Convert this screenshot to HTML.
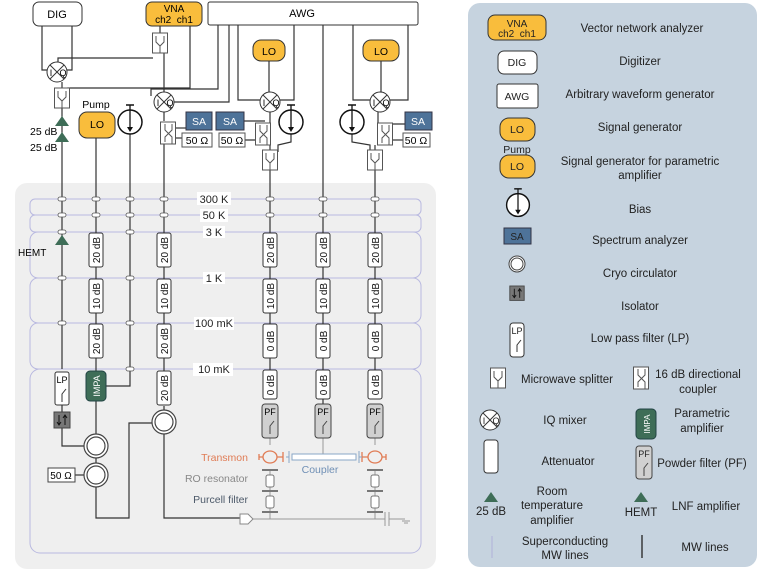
<!DOCTYPE html>
<html><head><meta charset="utf-8"><style>
html,body{margin:0;padding:0;background:#fff}
svg{display:block;font-family:"Liberation Sans","DejaVu Sans",sans-serif}
</style></head><body>
<svg width="765" height="572" viewBox="0 0 765 572" xmlns="http://www.w3.org/2000/svg">
<defs>
<g id="att"><rect x="-7" y="0" width="14" height="34" rx="2" fill="#fff" stroke="#333" stroke-width="1"/></g>
<g id="mix"><circle r="10" fill="#fff" stroke="#333"/><line x1="-7" y1="-7" x2="7" y2="7" stroke="#333"/><line x1="-7" y1="7" x2="7" y2="-7" stroke="#333"/><text x="-6" y="4" font-size="9" text-anchor="middle">I</text><text x="6" y="4" font-size="9" text-anchor="middle">Q</text></g>
<g id="spl"><rect x="-7.5" y="0" width="15" height="20" fill="#fff" stroke="#555"/><path d="M-4 3 V9 L0 13 L4 9 V3 M0 13 V20" fill="none" stroke="#555"/></g>
<g id="dc"><rect x="-7.5" y="0" width="15" height="22" fill="#fff" stroke="#555"/><path d="M-3 2 V8 L4 15 V22 M4 2 V8 L-3 15 V20" fill="none" stroke="#555"/></g>
<g id="bias"><circle r="12" fill="#fff" stroke="#111" stroke-width="1.5"/><line x1="0" y1="-17" x2="0" y2="8" stroke="#111" stroke-width="1.3"/><line x1="-4" y1="-17" x2="4" y2="-17" stroke="#111" stroke-width="1.5"/><path d="M-3 5 L0 10 L3 5Z" fill="#111"/></g>
<g id="circ"><circle r="12" fill="#fff" stroke="#444" stroke-width="1.2"/><circle r="9" fill="none" stroke="#444" stroke-width="1.2"/></g>
<g id="pf"><rect x="-8" y="0" width="16" height="34" rx="3" fill="#d0d0d0" stroke="#444"/><text x="0" y="11" font-size="9" text-anchor="middle">PF</text><path d="M0 30 V22 L4 17" fill="none" stroke="#444"/></g>
<g id="iso"><rect x="-8" y="0" width="16" height="16" fill="#777" stroke="#444"/><path d="M-3 3 V13 M3 3 V13" stroke="#111"/><path d="M-5 10 L-3 13 L-1 10 M1 6 L3 3 L5 6" fill="none" stroke="#111"/></g>
</defs>

<rect x="468" y="3" width="289" height="564" rx="12" fill="#c6d3df"/>
<rect x="15" y="183" width="421" height="386" rx="12" fill="#efefef"/>
<g fill="none" stroke="#b9b9e0" stroke-width="1">
<rect x="30" y="199" width="391" height="16" rx="5"/>
<rect x="30" y="215" width="391" height="17" rx="5"/>
<rect x="30" y="232" width="391" height="46" rx="8"/>
<rect x="30" y="278" width="391" height="45" rx="8"/>
<rect x="30" y="323" width="391" height="46" rx="8"/>
<rect x="30" y="369" width="391" height="184" rx="10"/>
</g>
<g font-size="11" text-anchor="middle" fill="#222">
<rect x="197" y="192" width="34" height="13" fill="#fff"/><text x="214" y="203">300 K</text>
<rect x="200" y="209" width="28" height="13" fill="#fff"/><text x="214" y="219">50 K</text>
<rect x="203" y="226" width="22" height="12" fill="#fff"/><text x="214" y="236">3 K</text>
<rect x="203" y="272" width="22" height="12" fill="#fff"/><text x="214" y="282">1 K</text>
<rect x="194" y="317" width="40" height="13" fill="#fff"/><text x="214" y="327">100 mK</text>
<rect x="193" y="363" width="40" height="13" fill="#fff"/><text x="214" y="373">10 mK</text>
</g>

<g fill="none" stroke="#333" stroke-width="1.2">
<path d="M42 26 V70 H47"/><path d="M72 26 V70 H67"/>
<path d="M62 82 V88"/><path d="M62 108 V369"/>
<path d="M160 25 V33"/><path d="M164 53 V92"/><path d="M153 58 H58 V62"/>
<path d="M190 25 V88 H68 V90"/>
<path d="M218 25 V89 H151 V96"/>
<path d="M229 25 V102 H174"/>
<path d="M238 25 V100 H260"/>
<path d="M294 25 V100 H280"/>
<path d="M323 25 V404"/>
<path d="M353 25 V100 H370"/>
<path d="M408 25 V100 H390"/>
<path d="M269 61 V92"/><path d="M381 61 V92"/>
<path d="M164 112 V121"/><path d="M164 143 V371"/>
<path d="M270 112 V123"/><path d="M270 145 V150"/><path d="M270 170 V371"/>
<path d="M378 112 V123"/><path d="M375 145 V150"/><path d="M375 170 V371"/>
<path d="M291 134 V142 L278 145 V152"/><path d="M352 134 V142 L370 145 V152"/>
<path d="M96 138 V371"/><path d="M130 110 V386 H106"/>
<path d="M172 128 H186"/><path d="M172 138 H182"/>
<path d="M244 121 H265"/><path d="M245 140 H264"/>
<path d="M388 124 H405"/><path d="M388 140 H403"/>
<path d="M62 405 V412"/><path d="M62 428 V446 H84"/>
<path d="M96 400 V434"/><path d="M96 458 V463"/>
<path d="M75 475 H84"/>
<path d="M96 487 V518 H129 V423 H152"/>
<path d="M164 406 V410"/><path d="M164 434 V518 H240"/>
</g>
<g fill="none" stroke="#999" stroke-width="1">
<path d="M252 519 H385"/><path d="M270 438 V445"/><path d="M375 438 V445"/><path d="M323 438 V457"/>
<path d="M270 469 V519"/><path d="M375 469 V519"/>
<path d="M385 519 V512 M385 519 V526 M389 512 V526 M389 519 H405 M402 521 H410 M404 523 H408"/>
</g>
<path d="M240 514 H248 L253 519 L248 524 H240Z" fill="#fff" stroke="#888"/>

<g fill="#fff" stroke="#555" stroke-width="0.8">
<rect x="58" y="197" width="8" height="4" rx="2"/><rect x="58" y="213" width="8" height="4" rx="2"/><rect x="58" y="230" width="8" height="4" rx="2"/><rect x="58" y="276" width="8" height="4" rx="2"/><rect x="58" y="321" width="8" height="4" rx="2"/>
<rect x="92" y="197" width="8" height="4" rx="2"/><rect x="92" y="213" width="8" height="4" rx="2"/>
<rect x="126" y="197" width="8" height="4" rx="2"/><rect x="126" y="213" width="8" height="4" rx="2"/><rect x="126" y="230" width="8" height="4" rx="2"/><rect x="126" y="276" width="8" height="4" rx="2"/><rect x="126" y="321" width="8" height="4" rx="2"/><rect x="126" y="367" width="8" height="4" rx="2"/>
<rect x="160" y="197" width="8" height="4" rx="2"/><rect x="160" y="213" width="8" height="4" rx="2"/>
<rect x="266" y="197" width="8" height="4" rx="2"/><rect x="266" y="213" width="8" height="4" rx="2"/>
<rect x="319" y="197" width="8" height="4" rx="2"/><rect x="319" y="213" width="8" height="4" rx="2"/>
<rect x="371" y="197" width="8" height="4" rx="2"/><rect x="371" y="213" width="8" height="4" rx="2"/>
</g>

<g font-size="10" fill="#111">
<g transform="translate(96,233)"><use href="#att"/><text transform="translate(4,17) rotate(-90)" text-anchor="middle">20 dB</text></g>
<g transform="translate(96,279)"><use href="#att"/><text transform="translate(4,17) rotate(-90)" text-anchor="middle">10 dB</text></g>
<g transform="translate(96,324)"><use href="#att"/><text transform="translate(4,17) rotate(-90)" text-anchor="middle">20 dB</text></g>
<g transform="translate(164,233)"><use href="#att"/><text transform="translate(4,17) rotate(-90)" text-anchor="middle">20 dB</text></g>
<g transform="translate(164,279)"><use href="#att"/><text transform="translate(4,17) rotate(-90)" text-anchor="middle">10 dB</text></g>
<g transform="translate(164,324)"><use href="#att"/><text transform="translate(4,17) rotate(-90)" text-anchor="middle">20 dB</text></g>
<g transform="translate(164,371)"><use href="#att"/><text transform="translate(4,17) rotate(-90)" text-anchor="middle">20 dB</text></g>
<g transform="translate(270,233)"><use href="#att"/><text transform="translate(4,17) rotate(-90)" text-anchor="middle">20 dB</text></g>
<g transform="translate(270,279)"><use href="#att"/><text transform="translate(4,17) rotate(-90)" text-anchor="middle">10 dB</text></g>
<g transform="translate(270,324)"><use href="#att"/><text transform="translate(4,17) rotate(-90)" text-anchor="middle">0 dB</text></g>
<g transform="translate(323,233)"><use href="#att"/><text transform="translate(4,17) rotate(-90)" text-anchor="middle">20 dB</text></g>
<g transform="translate(323,279)"><use href="#att"/><text transform="translate(4,17) rotate(-90)" text-anchor="middle">10 dB</text></g>
<g transform="translate(323,324)"><use href="#att"/><text transform="translate(4,17) rotate(-90)" text-anchor="middle">0 dB</text></g>
<g transform="translate(375,233)"><use href="#att"/><text transform="translate(4,17) rotate(-90)" text-anchor="middle">20 dB</text></g>
<g transform="translate(375,279)"><use href="#att"/><text transform="translate(4,17) rotate(-90)" text-anchor="middle">10 dB</text></g>
<g transform="translate(375,324)"><use href="#att"/><text transform="translate(4,17) rotate(-90)" text-anchor="middle">0 dB</text></g>
<g transform="translate(270,370)"><rect x="-7" y="0" width="14" height="29" rx="2" fill="#fff" stroke="#333"/><text transform="translate(4,15) rotate(-90)" text-anchor="middle">0 dB</text></g>
<g transform="translate(323,370)"><rect x="-7" y="0" width="14" height="29" rx="2" fill="#fff" stroke="#333"/><text transform="translate(4,15) rotate(-90)" text-anchor="middle">0 dB</text></g>
<g transform="translate(375,370)"><rect x="-7" y="0" width="14" height="29" rx="2" fill="#fff" stroke="#333"/><text transform="translate(4,15) rotate(-90)" text-anchor="middle">0 dB</text></g>
</g>
<use href="#pf" transform="translate(270,404)"/><use href="#pf" transform="translate(323,404)"/><use href="#pf" transform="translate(375,404)"/>

<path d="M55 245 L62 235 L69 245Z" fill="#3e6d57"/>
<text x="18" y="256" font-size="10">HEMT</text>
<rect x="55" y="372" width="14" height="33" rx="2" fill="#fff" stroke="#333"/><text x="62" y="383" font-size="9" text-anchor="middle">LP</text><path d="M62 402 V394 L66 389" fill="none" stroke="#333"/>
<use href="#iso" transform="translate(62,412)"/>
<rect x="86" y="371" width="20" height="30" rx="4" fill="#3e6d57" stroke="#244"/><text transform="translate(100,386) rotate(-90)" font-size="9" fill="#fff" text-anchor="middle">IMPA</text>
<use href="#circ" transform="translate(96,446)"/><use href="#circ" transform="translate(96,475)"/><use href="#circ" transform="translate(164,422)"/>
<rect x="48" y="468" width="27" height="14" fill="#fff" stroke="#444"/><text x="61" y="479" font-size="10" text-anchor="middle">50 Ω</text>

<g stroke="#e07c55" fill="none" stroke-width="1.3">
<ellipse cx="270" cy="457" rx="7" ry="6"/><path d="M277 457 H283 M283 452 V462 M263 457 H259 M259 454 V460"/>
<ellipse cx="375" cy="457" rx="7" ry="6"/><path d="M368 457 H362 M362 452 V462 M382 457 H386 M386 454 V460"/>
</g>
<rect x="292" y="454" width="64" height="6" fill="#fff" stroke="#8aa7c7"/><path d="M289 451 V463 M359 451 V463 M286 457 H289 M359 457 H362" stroke="#8aa7c7"/>
<g fill="#fff" stroke="#777"><rect x="266" y="475" width="8" height="12" rx="2"/><rect x="371" y="475" width="8" height="12" rx="2"/><rect x="266" y="496" width="8" height="12" rx="2"/><rect x="371" y="496" width="8" height="12" rx="2"/></g>
<g fill="#777"><rect x="262" y="469" width="16" height="2"/><rect x="367" y="469" width="16" height="2"/><rect x="262" y="490" width="16" height="2"/><rect x="367" y="490" width="16" height="2"/><rect x="262" y="511" width="16" height="2"/><rect x="367" y="511" width="16" height="2"/></g>
<text x="248" y="461" font-size="10.5" fill="#e07c55" text-anchor="end">Transmon</text>
<text x="320" y="473" font-size="10.5" fill="#6f8fb5" text-anchor="middle">Coupler</text>
<text x="248" y="482" font-size="10.5" fill="#888" text-anchor="end">RO resonator</text>
<text x="248" y="503" font-size="10.5" fill="#4d5a6a" text-anchor="end">Purcell filter</text>

<rect x="33" y="2" width="49" height="24" rx="6" fill="#fff" stroke="#333"/><text x="57" y="18" font-size="11" text-anchor="middle">DIG</text>
<rect x="146" y="2" width="56" height="24" rx="6" fill="#f9bd3c" stroke="#333"/><text x="174" y="12" font-size="10" text-anchor="middle">VNA</text><text x="174" y="23" font-size="10" text-anchor="middle">ch2&#160;&#160;ch1</text>
<rect x="208" y="2" width="210" height="23" rx="2" fill="#fff" stroke="#333"/><text x="302" y="17" font-size="11" text-anchor="middle">AWG</text>
<rect x="253" y="40" width="32" height="21" rx="8" fill="#f9bd3c" stroke="#333"/><text x="269" y="55" font-size="10.5" text-anchor="middle">LO</text>
<rect x="363" y="40" width="36" height="21" rx="8" fill="#f9bd3c" stroke="#333"/><text x="381" y="55" font-size="10.5" text-anchor="middle">LO</text>
<rect x="79" y="112" width="36" height="26" rx="8" fill="#f9bd3c" stroke="#333"/><text x="97" y="128" font-size="10.5" text-anchor="middle">LO</text>
<text x="96" y="108" font-size="10.5" text-anchor="middle">Pump</text>
<use href="#spl" transform="translate(160,33)"/>
<use href="#spl" transform="translate(62,88)"/>
<use href="#spl" transform="translate(270,150)"/>
<use href="#spl" transform="translate(375,150)"/>
<use href="#mix" transform="translate(57,72)"/>
<use href="#mix" transform="translate(164,102)"/>
<use href="#mix" transform="translate(270,102)"/>
<use href="#mix" transform="translate(380,102)"/>
<use href="#dc" transform="translate(168,122)"/>
<use href="#dc" transform="translate(263,123)"/>
<use href="#dc" transform="translate(385,123)"/>
<use href="#bias" transform="translate(130,122)"/>
<use href="#bias" transform="translate(291,122)"/>
<use href="#bias" transform="translate(352,122)"/>
<path d="M55 126 L62 116 L69 126Z" fill="#3e6d57"/><path d="M55 142 L62 132 L69 142Z" fill="#3e6d57"/>
<text x="30" y="135" font-size="10.5">25 dB</text><text x="30" y="151" font-size="10.5">25 dB</text>
<g font-size="10.5" text-anchor="middle">
<rect x="186" y="112" width="26" height="18" fill="#4e7399" stroke="#334"/><text x="199" y="125" fill="#fff">SA</text>
<rect x="182" y="133" width="30" height="14" fill="#fff" stroke="#555"/><text x="197" y="144">50 Ω</text>
<rect x="216" y="112" width="28" height="18" fill="#4e7399" stroke="#334"/><text x="230" y="125" fill="#fff">SA</text>
<rect x="219" y="133" width="26" height="14" fill="#fff" stroke="#555"/><text x="232" y="144">50 Ω</text>
<rect x="405" y="112" width="27" height="18" fill="#4e7399" stroke="#334"/><text x="418" y="125" fill="#fff">SA</text>
<rect x="403" y="133" width="27" height="14" fill="#fff" stroke="#555"/><text x="416" y="144">50 Ω</text>
</g>

<g font-size="11.5" fill="#222" text-anchor="middle">
<rect x="488" y="15" width="58" height="25" rx="7" fill="#f9bd3c" stroke="#333"/><text x="517" y="27" font-size="10">VNA</text><text x="517" y="37" font-size="10">ch2&#160;&#160;ch1</text>
<text x="642" y="32">Vector network analyzer</text>
<rect x="498" y="51" width="39" height="23" rx="6" fill="#fff" stroke="#333"/><text x="517" y="66" font-size="10.5">DIG</text>
<text x="640" y="65">Digitizer</text>
<rect x="497" y="84" width="41" height="24" rx="2" fill="#fff" stroke="#333"/><text x="517" y="100" font-size="10.5">AWG</text>
<text x="640" y="98">Arbitrary waveform generator</text>
<rect x="500" y="118" width="35" height="23" rx="9" fill="#f9bd3c" stroke="#333"/><text x="517" y="133" font-size="10.5">LO</text>
<text x="640" y="131">Signal generator</text>
<text x="517" y="153" font-size="10.5">Pump</text>
<rect x="500" y="155" width="35" height="23" rx="9" fill="#f9bd3c" stroke="#333"/><text x="517" y="170" font-size="10.5">LO</text>
<text x="640" y="165">Signal generator for parametric</text><text x="640" y="179">amplifier</text>
<use href="#bias" transform="translate(518,205) scale(0.95)"/>
<text x="640" y="213">Bias</text>
<rect x="504" y="228" width="27" height="16" fill="#4e7399" stroke="#334"/><text x="517" y="240" font-size="10">SA</text>
<text x="640" y="244">Spectrum analyzer</text>
<g transform="translate(517,264)"><circle r="8" fill="#fff" stroke="#444"/><circle r="6" fill="none" stroke="#444"/></g>
<text x="640" y="277">Cryo circulator</text>
<use href="#iso" transform="translate(517,286) scale(0.9)"/>
<text x="640" y="310">Isolator</text>
<rect x="510" y="323" width="14" height="34" rx="3" fill="#fff" stroke="#333"/><text x="517" y="334" font-size="9">LP</text><path d="M517 352 V345 L521 340" fill="none" stroke="#333"/>
<text x="640" y="342">Low pass filter (LP)</text>
<g transform="translate(498,368)"><use href="#spl"/></g>
<text x="567" y="383">Microwave splitter</text>
<g transform="translate(641,367)"><use href="#dc"/></g>
<text x="698" y="378">16 dB directional</text><text x="698" y="393">coupler</text>
<use href="#mix" transform="translate(490,420)"/>
<text x="565" y="424">IQ mixer</text>
<rect x="636" y="409" width="20" height="30" rx="4" fill="#3e6d57" stroke="#244"/><text transform="translate(650,424) rotate(-90)" font-size="8" fill="#fff">IMPA</text>
<text x="702" y="417">Parametric</text><text x="702" y="432">amplifier</text>
<rect x="484" y="440" width="14" height="33" rx="3" fill="#fff" stroke="#333"/>
<text x="568" y="465">Attenuator</text>
<rect x="636" y="446" width="16" height="33" rx="3" fill="#d0d0d0" stroke="#444"/><text x="644" y="457" font-size="9">PF</text><path d="M644 476 V468 L648 463" fill="none" stroke="#444"/>
<text x="702" y="467">Powder filter (PF)</text>
<path d="M484 502 L491 492 L498 502Z" fill="#3e6d57"/><text x="491" y="515">25 dB</text>
<text x="552" y="495">Room</text><text x="552" y="509">temperature</text><text x="552" y="524">amplifier</text>
<path d="M634 502 L641 492 L648 502Z" fill="#3e6d57"/><text x="641" y="516">HEMT</text>
<text x="706" y="510">LNF amplifier</text>
<line x1="492" y1="536" x2="492" y2="558" stroke="#b0b0d8"/>
<text x="565" y="545">Superconducting</text><text x="565" y="559">MW lines</text>
<line x1="642" y1="535" x2="642" y2="558" stroke="#222" stroke-width="1.3"/>
<text x="705" y="551">MW lines</text>
</g>
</svg>
</body></html>
